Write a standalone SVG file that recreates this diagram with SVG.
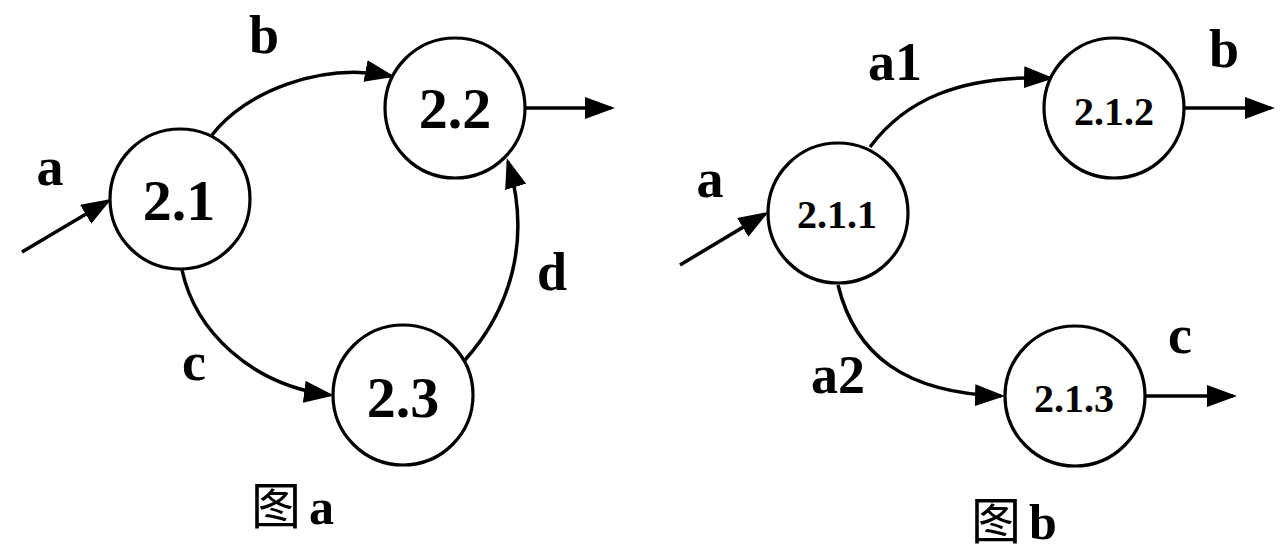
<svg xmlns="http://www.w3.org/2000/svg" width="1280" height="553" viewBox="0 0 1280 553">
<style>
.node{fill:#fff;stroke:#000;stroke-width:3.2}
.big{font-family:"Liberation Serif","Times New Roman",serif;font-weight:bold;font-size:58px;text-anchor:middle}
.small{font-family:"Liberation Serif","Times New Roman",serif;font-weight:bold;font-size:40px;text-anchor:middle}
.lab{font-family:"Liberation Serif","Times New Roman",serif;font-weight:bold;font-size:54px;text-anchor:middle}
.edge{fill:none;stroke:#000;stroke-width:3.5}
.cap{font-family:"Liberation Serif","Times New Roman",serif;font-weight:bold;font-size:50px}
.cjk{font-family:"Noto Sans CJK SC",sans-serif;font-weight:normal;font-size:50px}
</style>
<defs>
<marker id="arr" markerUnits="userSpaceOnUse" markerWidth="30" markerHeight="22" refX="26" refY="11" orient="auto">
<path d="M0,0 L30,11 L0,22 z" fill="#000"/>
</marker>
</defs>
<rect width="1280" height="553" fill="#fff"/>
<g id="connectors">
<path class="edge" d="M22,252 L108,201" marker-end="url(#arr)"/>
<path class="edge" d="M212,135 C245,92 320,62 391,76" marker-end="url(#arr)"/>
<path class="edge" d="M182,270 C195,330 250,385 330,395" marker-end="url(#arr)"/>
<path class="edge" d="M465,360 C510,310 532,240 508,162" marker-end="url(#arr)"/>
<path class="edge" d="M525,108 L611,108" marker-end="url(#arr)"/>
<path class="edge" d="M680,265 L765,214" marker-end="url(#arr)"/>
<path class="edge" d="M870,147 C905,100 960,75 1050,78" marker-end="url(#arr)"/>
<path class="edge" d="M838,285 C855,355 905,393 1001,396" marker-end="url(#arr)"/>
<path class="edge" d="M1185,108 L1271,108" marker-end="url(#arr)"/>
<path class="edge" d="M1145,396 L1233,396" marker-end="url(#arr)"/>
</g>
<g id="n21"><circle class="node" cx="180" cy="199" r="70"/><text class="big" x="179" y="220">2.1</text></g>
<g id="n22"><circle class="node" cx="455" cy="108" r="70"/><text class="big" x="455" y="128">2.2</text></g>
<g id="n23"><circle class="node" cx="403" cy="395" r="70"/><text class="big" x="403" y="417">2.3</text></g>
<g id="n211"><circle class="node" cx="838" cy="213" r="70"/><text class="small" x="837" y="228">2.1.1</text></g>
<g id="n212"><circle class="node" cx="1114" cy="108" r="70"/><text class="small" x="1114" y="125">2.1.2</text></g>
<g id="n213"><circle class="node" cx="1075" cy="396" r="70"/><text class="small" x="1074" y="412">2.1.3</text></g>
<g id="labels">
<text class="lab" x="50" y="185">a</text>
<text class="lab" x="264" y="53">b</text>
<text class="lab" x="194" y="380">c</text>
<text class="lab" x="552" y="290">d</text>
<text class="lab" x="710" y="197">a</text>
<text class="lab" x="895" y="80">a1</text>
<text class="lab" x="1224" y="67">b</text>
<text class="lab" x="838" y="393">a2</text>
<text class="lab" x="1180" y="353">c</text>
</g>
<g id="captions">
<text x="251" y="524"><tspan class="cjk">图</tspan><tspan class="cap" dx="8">a</tspan></text>
<text x="971" y="539"><tspan class="cjk">图</tspan><tspan class="cap" dx="8">b</tspan></text>
</g>
</svg>
